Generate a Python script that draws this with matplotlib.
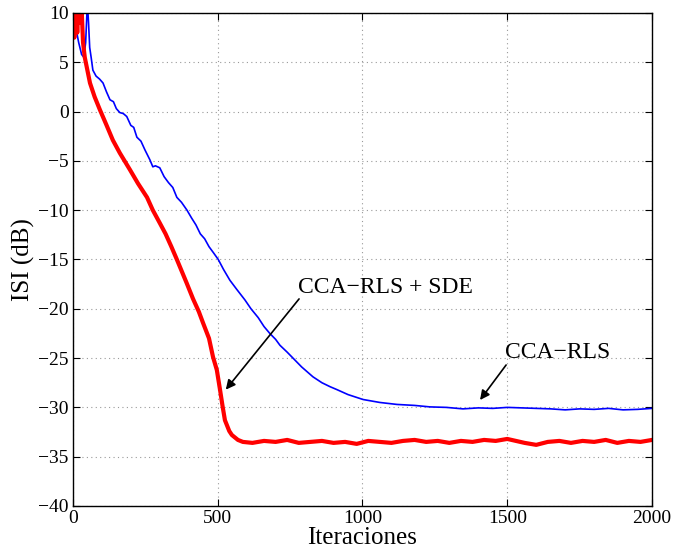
import matplotlib
matplotlib.use("Agg")
import matplotlib.pyplot as plt

plt.rcParams['font.family'] = ['Liberation Serif', 'DejaVu Serif']

# CCA-RLS (blue)
x_rls = [0, 10, 20, 30, 38, 44, 50, 54, 58, 63, 69, 80, 92, 104, 116, 128, 140, 150, 162,
         174, 186, 200, 210, 221, 235, 249, 266, 276, 285, 300, 315, 330, 345, 359, 375,
         394, 410, 425, 440, 455, 470, 485, 502, 520, 542, 565, 594, 615, 640, 660, 680,
         700, 715, 740, 760, 790, 829, 860, 888, 912, 950, 1002, 1060, 1119, 1180, 1233,
         1290, 1347, 1400, 1450, 1500, 1550, 1600, 1650, 1700, 1750, 1800, 1850, 1900,
         1950, 2000]
y_rls = [10, 8.5, 7.0, 5.8, 5.5, 7.0, 11.0, 9.0, 6.5, 5.5, 4.2, 3.6, 3.3, 2.9, 2.0, 1.2,
         1.0, 0.3, -0.1, -0.2, -0.5, -1.4, -1.6, -2.6, -3.0, -3.9, -4.9, -5.6, -5.5, -5.7,
         -6.6, -7.2, -7.7, -8.7, -9.2, -10.0, -10.8, -11.5, -12.4, -12.9, -13.7, -14.3,
         -15.0, -16.0, -17.1, -18.0, -19.1, -20.0, -20.9, -21.8, -22.5, -23.1, -23.7, -24.4,
         -25.0, -25.9, -26.9, -27.5, -27.9, -28.2, -28.7, -29.2, -29.5, -29.7, -29.8, -29.95,
         -30.0, -30.15, -30.05, -30.1, -30.0, -30.05, -30.1, -30.15, -30.25, -30.15, -30.2,
         -30.1, -30.25, -30.2, -30.1]

# CCA-RLS + SDE (red)
x_sde = [0, 5, 10, 15, 20, 25, 30, 35, 41, 50, 59, 75, 93, 115, 138, 162, 197, 225, 256,
         276, 300, 320, 340, 359, 393, 415, 435, 449, 470, 484, 497, 508, 517, 525, 540,
         549, 570, 587, 620, 660, 700, 740, 780, 820, 860, 900, 940, 980, 1020, 1060,
         1100, 1140, 1180, 1220, 1260, 1300, 1340, 1380, 1420, 1460, 1500, 1530, 1560,
         1600, 1640, 1680, 1720, 1760, 1800, 1840, 1880, 1920, 1960, 2000]
y_sde = [10, 7.5, 11.0, 8.0, 11.0, 9.0, 10.5, 7.0, 5.5, 4.2, 2.9, 1.5, 0.2, -1.3, -2.9,
         -4.2, -5.9, -7.3, -8.7, -10.0, -11.3, -12.4, -13.7, -15.0, -17.4, -19.0, -20.3,
         -21.4, -23.0, -24.9, -26.2, -28.2, -29.9, -31.3, -32.4, -32.8, -33.3, -33.5,
         -33.6, -33.4, -33.5, -33.3, -33.6, -33.5, -33.4, -33.6, -33.5, -33.7, -33.4,
         -33.5, -33.6, -33.4, -33.3, -33.5, -33.4, -33.6, -33.4, -33.5, -33.3, -33.4,
         -33.2, -33.4, -33.6, -33.8, -33.5, -33.4, -33.6, -33.4, -33.5, -33.3, -33.6,
         -33.4, -33.5, -33.3]

xticks = [0, 500, 1000, 1500, 2000]
yticks = [-40, -35, -30, -25, -20, -15, -10, -5, 0, 5, 10]

fig = plt.figure(figsize=(6.75, 5.55), dpi=100)
ax = fig.add_axes([0.108, 0.0883, 0.858, 0.8883])

ax.plot(x_rls, y_rls, color='#0000ff', lw=1.2)
ax.plot(x_sde, y_sde, color='#ff0000', lw=3.0)

ax.set_xlim(0, 2000)
ax.set_ylim(-40, 10)
ax.set_xticks(xticks)
ax.set_yticks(yticks)
ax.grid(True, linestyle=(0, (1, 3)), color='#999999', lw=0.8)
ax.tick_params(direction='in', top=True, right=True, labelsize=14, length=5, pad=3)
for s in ax.spines.values():
    s.set_linewidth(1.0)

ax.set_xlabel('Iteraciones', fontsize=18, labelpad=0)
ax.set_ylabel('ISI (dB)', fontsize=18, labelpad=2)

# labels and arrows (arrow tail below-left of each label, as in the original)
arrow = dict(arrowstyle='-|>', color='black', lw=1.2, mutation_scale=14,
             shrinkA=0, shrinkB=0)
ax.text(777, -17.8, 'CCA\u2212RLS + SDE', fontsize=17, va='center', ha='left')
ax.annotate('', xy=(528, -28.2), xytext=(781, -19.0), arrowprops=arrow)
ax.text(1492, -24.4, 'CCA\u2212RLS', fontsize=17, va='center', ha='left')
ax.annotate('', xy=(1406, -29.25), xytext=(1496, -25.7), arrowprops=arrow)

fig.savefig('out.png', dpi=100)
